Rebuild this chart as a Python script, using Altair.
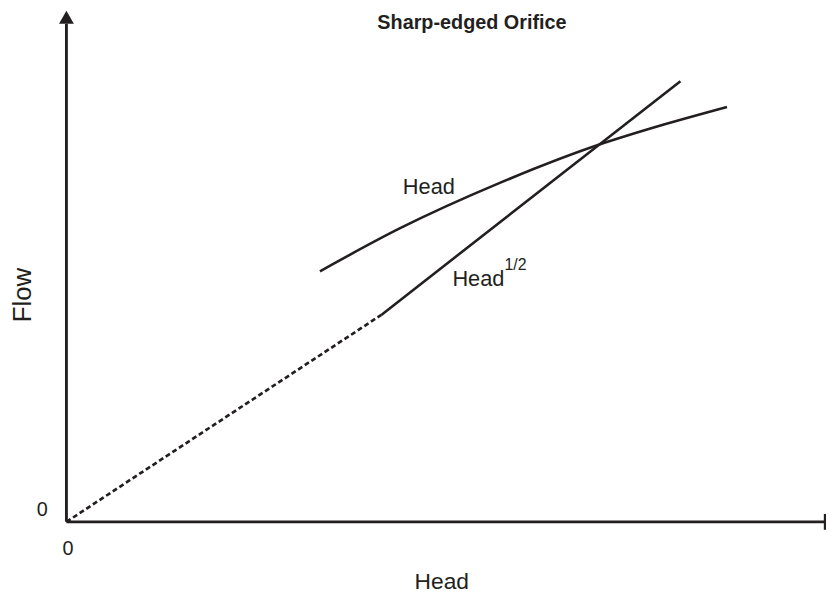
import altair as alt
import pandas as pd

INK = "#231f20"
FONT = "Liberation Sans"

# Head^(1/2) relation (dashed = extrapolated part towards the origin)
sqrt_head_dashed = [0.0, 4.151]
sqrt_flow_dashed = [0.0, 4.058]
sqrt_head_solid = [4.151, 8.094]
sqrt_flow_solid = [4.058, 8.641]

# Head relation: concave curve
curve_head = [3.342, 4.386, 5.705, 7.063, 7.820, 8.708]
curve_flow = [4.913, 5.748, 6.641, 7.417, 7.767, 8.136]

# texts
title_text = "Sharp-edged Orifice"
x_title = "Head"
y_title = "Flow"
tick_labels = ["0", "0"]
curve_labels = ["Head", "Head", "1/2"]

XDOM = [-0.7702, 10.013]
YDOM = [-1.437, 10.0194]
xs = alt.Scale(domain=XDOM, nice=False, zero=False)
ys = alt.Scale(domain=YDOM, nice=False, zero=False)


def X(f="x"):
    return alt.X(f"{f}:Q", scale=xs, axis=None)


def Y(f="y"):
    return alt.Y(f"{f}:Q", scale=ys, axis=None)


# axes drawn as rules
axes_df = pd.DataFrame({
    "x": [0.0, 0.0, 10.0],
    "y": [0.0, 0.0, 0.155],
    "x2": [10.0, 0.0, 10.0],
    "y2": [0.0, 9.767, -0.155],
    "w": [2.9, 2.9, 2.4],
})
axes = alt.Chart(axes_df).mark_rule(color=INK, strokeCap="butt").encode(
    x=X(), y=Y(), x2="x2:Q", y2="y2:Q", strokeWidth=alt.StrokeWidth("w:Q", scale=None)
)

arrow = alt.Chart(pd.DataFrame({"x": [0.0], "y": [9.893]})).mark_point(
    shape="triangle-up", size=225, filled=True, color=INK, opacity=1
).encode(x=X(), y=Y())

dashed = alt.Chart(pd.DataFrame({"x": sqrt_head_dashed, "y": sqrt_flow_dashed})).mark_line(
    color=INK, strokeWidth=2.7, strokeDash=[5, 3]
).encode(x=X(), y=Y())

solid = alt.Chart(pd.DataFrame({"x": sqrt_head_solid, "y": sqrt_flow_solid})).mark_line(
    color=INK, strokeWidth=2.6
).encode(x=X(), y=Y())

curve = alt.Chart(pd.DataFrame({"x": curve_head, "y": curve_flow})).mark_line(
    color=INK, strokeWidth=2.6, interpolate="monotone"
).encode(x=X(), y=Y())

# regular texts
text_df = pd.DataFrame({
    "x": [-0.320, 0.020, 4.778, 5.431, 5.920, 4.948],
    "y": [0.223, -0.534, 6.563, 4.757, 5.030, -1.184],
    "t": tick_labels + curve_labels + [x_title],
    "fs": [20, 20, 22, 22, 16, 23],
})
texts = alt.Chart(text_df).mark_text(
    font=FONT, color=INK, align="center", baseline="middle"
).encode(x=X(), y=Y(), text="t:N", size=alt.Size("fs:Q", scale=None))

ytitle = alt.Chart(pd.DataFrame({"x": [-0.574], "y": [4.447], "t": [y_title]})).mark_text(
    font=FONT, color=INK, align="center", baseline="middle", angle=270, fontSize=26
).encode(x=X(), y=Y(), text="t:N")

title = alt.Chart(pd.DataFrame({"x": [5.346], "y": [9.786], "t": [title_text]})).mark_text(
    font=FONT, color=INK, align="center", baseline="middle", fontSize=20, fontWeight="bold"
).encode(x=X(), y=Y(), text="t:N")

chart = alt.layer(axes, dashed, solid, curve, arrow, texts, ytitle, title).properties(
    width=826,
    height=590,
    autosize=alt.AutoSizeParams(type="none"),
    padding=0,
    background="white",
).configure_view(strokeWidth=0)

chart.save("out.html", embed_options={"renderer": "svg", "actions": False})
